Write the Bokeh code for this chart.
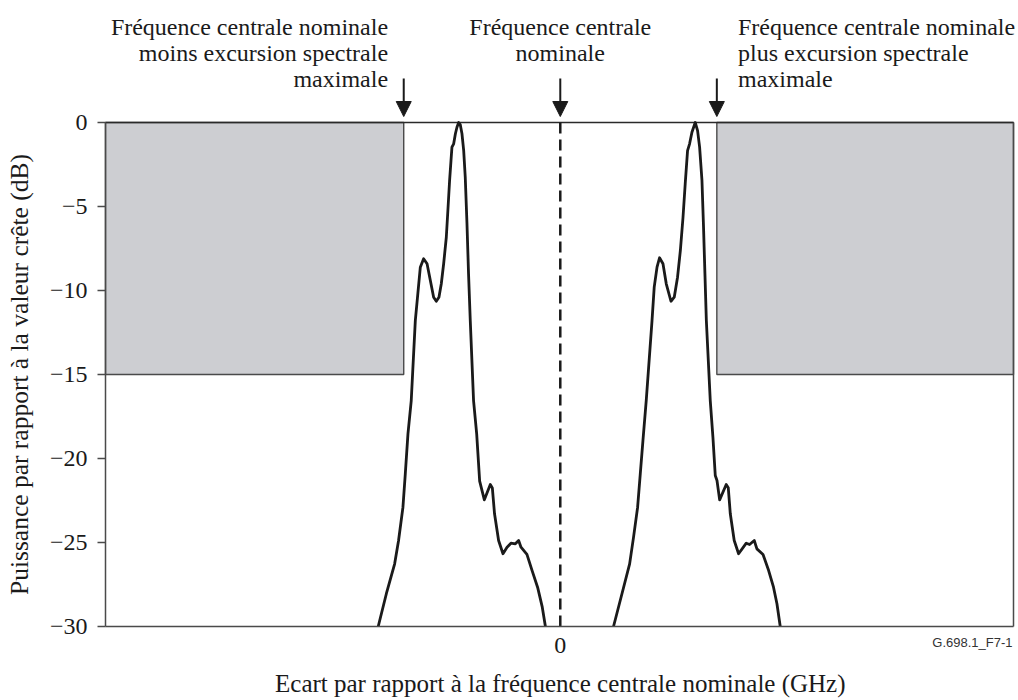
import math
from bokeh.plotting import figure
from bokeh.models import (FixedTicker, Label, Arrow, NormalHead, Range1d)
from bokeh.embed import file_html
from bokeh.resources import INLINE

# ---------------- data ----------------
left_ghz = [-11.63, -11.11, -10.58, -10.33, -10.05, -9.90, -9.73, -9.52, -9.26, -9.10,
            -8.94, -8.73, -8.51, -8.30, -8.09, -7.92, -7.75, -7.60, -7.45, -7.28,
            -7.18, -7.07, -6.98, -6.92, -6.81, -6.70, -6.60, -6.49, -6.39, -6.28,
            -6.17, -6.07, -5.96, -5.86, -5.75, -5.54, -5.34, -5.19, -5.15, -4.85,
            -4.47, -4.34, -4.20, -3.94, -3.66, -3.40, -3.15, -2.87, -2.66, -2.51,
            -2.13, -1.80, -1.45, -1.15, -0.95]
left_db = [-30.0, -28.05, -26.27, -24.88, -22.90, -20.91, -18.53, -16.55, -11.79, -10.20,
           -8.61, -8.11, -8.41, -9.40, -10.40, -10.64, -10.40, -9.60, -8.41, -6.83,
           -5.24, -3.45, -2.26, -1.47, -1.27, -0.67, -0.28, 0.0, -0.12, -0.67,
           -1.67, -3.26, -6.03, -9.00, -11.79, -16.55, -18.53, -20.75, -21.35, -22.46,
           -21.55, -21.75, -23.29, -24.88, -25.67, -25.28, -25.04, -25.08, -24.88, -25.28,
           -25.71, -26.67, -27.66, -28.85, -30.0]

right_ghz = [3.40, 3.94, 4.43, 4.68, 4.94, 5.11, 5.28, 5.49, 5.86, 6.00,
             6.18, 6.34, 6.56, 6.77, 7.07, 7.28, 7.49, 7.67, 7.84, 7.98,
             8.13, 8.26, 8.41, 8.62, 8.77, 8.90, 9.05, 9.15, 9.24, 9.33,
             9.58, 9.75, 9.90, 10.01, 10.18, 10.60, 10.73, 10.86, 11.11, 11.39,
             11.88, 12.09, 12.39, 12.56, 12.95, 13.31, 13.62, 13.84, 14.05]
right_db = [-30.0, -28.05, -26.27, -24.68, -22.90, -20.91, -18.93, -16.55, -11.79, -9.80,
            -8.61, -8.05, -8.41, -9.60, -10.64, -10.40, -9.21, -7.62, -5.64, -3.65,
            -1.67, -1.27, -0.58, 0.0, -0.48, -1.47, -3.45, -6.23, -9.01, -11.79,
            -16.55, -18.73, -21.01, -21.31, -22.46, -21.55, -21.74, -23.29, -24.88, -25.67,
            -25.04, -25.12, -24.88, -25.38, -25.71, -26.67, -27.66, -28.65, -30.0]

excursion_ghz = 10.0          # maximum spectral excursion
mask_level_db = -15.0         # bottom of the shaded mask
x_min, x_max = -29.05, 28.95  # plotted frequency span (GHz)
y_min, y_max = -30.0, 0.0     # plotted power span (dB)

y_ticks = [0, -5, -10, -15, -20, -25, -30]
y_tick_labels = ["0", "\u22125", "\u221210", "\u221215", "\u221220", "\u221225", "\u221230"]
x_ticks = [0]
x_tick_labels = ["0"]

arrow_positions = [-excursion_ghz, 0.0, excursion_ghz]
text_left = "Fréquence centrale nominale\nmoins excursion spectrale\nmaximale"
text_center = "Fréquence centrale\nnominale"
text_right = "Fréquence centrale nominale\nplus excursion spectrale\nmaximale"
x_title = "Ecart par rapport à la fréquence centrale nominale (GHz)"
y_title = "Puissance par rapport à la valeur crête (dB)"
fig_id = "G.698.1_F7-1"

SERIF = "Liberation Serif"
INK = "#1a1a1a"
FRAME = "#4a4a4a"

# The drawing area covers the whole canvas so that annotations around the graph
# are not clipped; the graph itself spans x_min..x_max, y_min..y_max.
W, H = 1018, 700
PAD_L, PAD_R, PAD_T, PAD_B = 105, 5, 122, 74
PX_PER_GHZ = (W - PAD_L - PAD_R) / (x_max - x_min)
PX_PER_DB = (H - PAD_T - PAD_B) / (y_max - y_min)
view_x = (x_min - PAD_L / PX_PER_GHZ, x_max + PAD_R / PX_PER_GHZ)
view_y = (y_min - PAD_B / PX_PER_DB, y_max + PAD_T / PX_PER_DB)

p = figure(width=W, height=H, output_backend="svg", toolbar_location=None,
           x_range=Range1d(*view_x), y_range=Range1d(*view_y),
           min_border=0)
p.background_fill_color = "white"
p.border_fill_color = "white"
p.outline_line_color = None
p.grid.visible = False

# shaded mask regions
p.quad(left=[x_min, excursion_ghz], right=[-excursion_ghz, x_max],
       bottom=[mask_level_db, mask_level_db], top=[y_max, y_max],
       fill_color="#cdced2", line_color=FRAME, line_width=1.4)

# graph border: top edge and right edge (left/bottom are the axes)
p.segment(x0=[x_min], y0=[y_max], x1=[x_max], y1=[y_max], line_color="#2a2a2a", line_width=1.6)
p.segment(x0=[x_max], y0=[y_min], x1=[x_max], y1=[y_max], line_color=FRAME, line_width=1.5)

# centre dashed line
p.segment(x0=[0], y0=[y_min], x1=[0], y1=[y_max], line_color=INK,
          line_width=2.5, line_dash="11 6")

# spectra
p.line(left_ghz, left_db, line_color=INK, line_width=2.8, line_join="round")
p.line(right_ghz, right_db, line_color=INK, line_width=2.8, line_join="round")

# axes, pinned to the graph edges
yax = p.yaxis[0]
yax.fixed_location = x_min
yax.bounds = (y_min, y_max)
yax.ticker = FixedTicker(ticks=y_ticks)
yax.major_label_overrides = {t: l for t, l in zip(y_ticks, y_tick_labels)}
yax.minor_tick_line_color = None
yax.major_tick_out = 8
yax.major_tick_in = 0
yax.major_tick_line_color = FRAME
yax.major_tick_line_width = 1.4
yax.axis_line_color = FRAME
yax.axis_line_width = 1.5
yax.major_label_standoff = 10
yax.major_label_text_font = SERIF
yax.major_label_text_font_size = "24px"
yax.major_label_text_color = INK

xax = p.xaxis[0]
xax.fixed_location = y_min
xax.bounds = (x_min, x_max)
xax.ticker = FixedTicker(ticks=x_ticks)
xax.major_label_overrides = {t: l for t, l in zip(x_ticks, x_tick_labels)}
xax.minor_tick_line_color = None
xax.major_tick_out = 0
xax.major_tick_in = 0
xax.axis_line_color = FRAME
xax.axis_line_width = 1.5
xax.major_label_standoff = 11
xax.major_label_text_font = SERIF
xax.major_label_text_font_size = "24px"
xax.major_label_text_color = INK

# axis titles
p.add_layout(Label(x=x_min, x_offset=-86, y=(y_min + y_max) / 2, text=y_title,
                   angle=math.pi / 2, text_align="center", text_baseline="middle",
                   text_font=SERIF, text_font_size="25.5px", text_color=INK))
p.add_layout(Label(x=0.0, y=y_min, y_offset=-57, text=x_title,
                   text_align="center", text_baseline="middle",
                   text_font=SERIF, text_font_size="25px", text_color=INK))

# arrows above the graph
for xa in arrow_positions:
    p.add_layout(Arrow(x_start=xa, y_start=y_max + 44 / PX_PER_DB, x_end=xa,
                       y_end=y_max + 6 / PX_PER_DB,
                       line_color=INK, line_width=2,
                       end=NormalHead(size=15, fill_color=INK, line_color=INK, line_width=1)))

# annotation texts
common = dict(y=y_max, y_offset=109, text_baseline="top", text_font=SERIF,
              text_font_size="24px", text_color=INK, text_line_height=1.0)
p.add_layout(Label(x=-11.0, text=text_left, text_align="right", **common))
p.add_layout(Label(x=0.0, text=text_center, text_align="center", **common))
p.add_layout(Label(x=11.35, text=text_right, text_align="left", **common))

p.add_layout(Label(x=x_max, y=y_min, x_offset=-1, y_offset=-8, text=fig_id, text_align="right",
                   text_baseline="top", text_font="Liberation Sans",
                   text_font_size="13px", text_color="#333333"))

open("out.html", "w").write(file_html(p, INLINE))
